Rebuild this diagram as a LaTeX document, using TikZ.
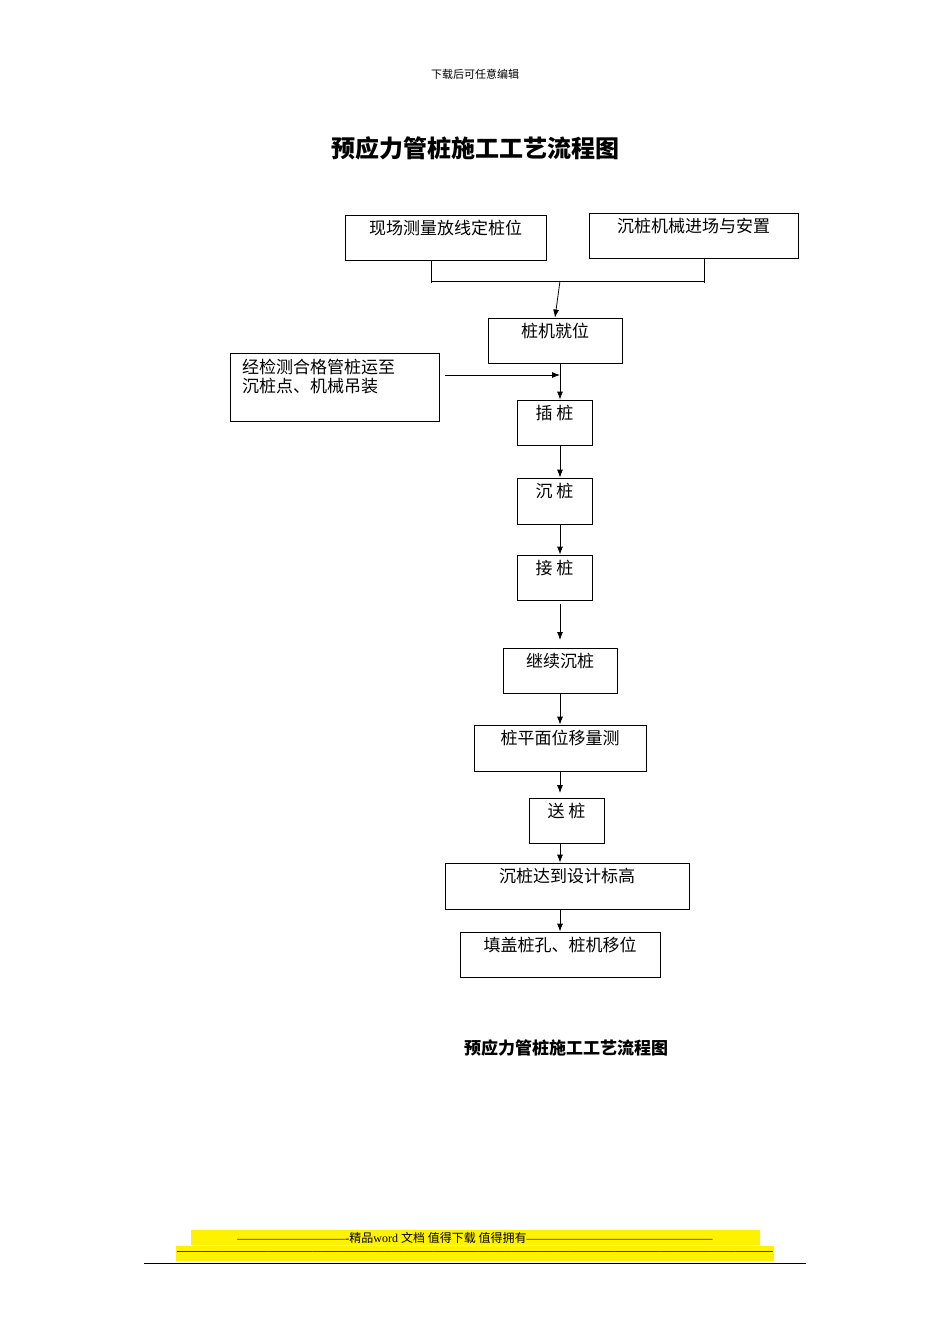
\documentclass[tikz,border=0pt]{standalone}
\usepackage{fontspec}
\setmainfont{Liberation Serif}
\newfontfamily\cjk{Noto Sans CJK SC}
\usetikzlibrary{arrows.meta}
\begin{document}
\begin{tikzpicture}[x=1pt,y=-1pt,
  bx/.style={draw,line width=0.8pt,inner sep=0pt},
  arr/.style={line width=0.8pt,-{Latex[length=8pt,width=6pt]}},
  ln/.style={line width=0.8pt}]
\useasboundingbox (0,0) rectangle (950,1344);
\newcommand\mybox[6]{\node[bx,minimum width=#4-#2,minimum height=#5-#3,
  label={[anchor=north,inner sep=5pt,font=\cjk\fontsize{17}{19}\selectfont]north:#6}] (#1) at ({(#2+#4)/2},{(#3+#5)/2}) {};}
\node (hdr) at (475,74) {\cjk\fontsize{11}{13}\selectfont 下载后可任意编辑};
\node (ttl) at (475,148) {\cjk\fontsize{24}{28}\selectfont\bfseries 预应力管桩施工工艺流程图};
\mybox{a}{345}{215}{546}{260}{现场测量放线定桩位}
\mybox{b}{589}{213}{798}{258}{沉桩机械进场与安置}
\mybox{c}{488}{318}{622}{363}{桩机就位}
\node[bx,minimum width=209,minimum height=68] (d) at (334.5,387) {};
\node[anchor=north west,align=left,inner sep=0pt,font=\cjk\fontsize{17}{19}\selectfont] (dt) at (242,359) {经检测合格管桩运至\\沉桩点、机械吊装};
\mybox{e}{517}{400}{592}{445}{插 桩}
\mybox{f}{517}{478}{592}{524}{沉 桩}
\mybox{g}{517}{555}{592}{600}{接 桩}
\mybox{h}{503}{648}{617}{693}{继续沉桩}
\mybox{i}{474}{725}{646}{771}{桩平面位移量测}
\mybox{j}{529}{798}{604}{843}{送 桩}
\mybox{k}{445}{863}{689}{909}{沉桩达到设计标高}
\mybox{l}{460}{932}{660}{977}{填盖桩孔、桩机移位}
\coordinate (a1) at (431,283); \coordinate (b1) at (704,283);
\coordinate (m) at (560,281); \coordinate (jn) at (560,375);
\coordinate (ds) at (445,375);
\draw[ln] (a.south -| a1) -- (a1);
\draw[ln] (b.south -| b1) -- (b1);
\draw[ln] (431,281) -- (704,281);
\draw[arr] (m) -- (c.south |- c.north);
\draw[arr] (ds) -- (jn);
\draw[arr] (c.south -| m) -- (e.north -| m);
\draw[arr] (e.south -| m) -- (f.north -| m);
\draw[arr] (f.south -| m) -- (g.north -| m);
\draw[arr] (560,604) -- (560,640);
\draw[arr] (h.south -| m) -- (i.north -| m);
\draw[arr] (i.south -| m) -- (560,793);
\draw[arr] (j.south -| m) -- (k.north -| m);
\draw[arr] (k.south -| m) -- (l.north -| m);
\node (cap) at (566,1048) {\cjk\fontsize{17}{20}\selectfont\bfseries 预应力管桩施工工艺流程图};
\fill[yellow] (191,1230) rectangle (760,1245);
\fill[yellow] (176,1246) rectangle (774,1261);
\node[inner sep=0pt] (f1) at (475,1237.5) {\fontsize{12}{13}\selectfont ----------------------------{\cjk 精品}word {\cjk 文档 值得下载 值得拥有}-----------------------------------------------};
\node[inner sep=0pt] (f2) at (475,1253.5) {\fontsize{12}{13}\selectfont\resizebox{596pt}{!}{-----------------------------------------------------------------------------------------------------------------------}};
\draw[line width=1pt] (144,1263) -- (806,1263);
\end{tikzpicture}
\end{document}
